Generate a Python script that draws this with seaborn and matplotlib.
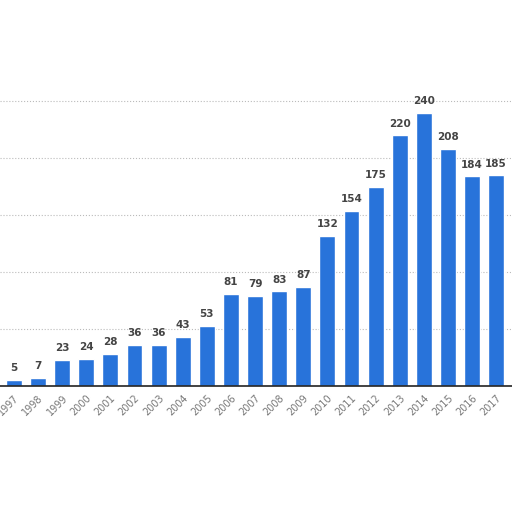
import matplotlib
matplotlib.use("Agg")
import pandas as pd
import matplotlib.pyplot as plt
import seaborn as sns

sns.set_style("white")
plt.rcParams['font.family'] = ['DejaVu Sans']

years = [str(y) for y in range(1997, 2018)]
values = [5, 7, 23, 24, 28, 36, 36, 43, 53, 81, 79, 83, 87,
          132, 154, 175, 220, 240, 208, 184, 185]

df = pd.DataFrame({"year": years, "value": values})

fig = plt.figure(figsize=(5.12, 5.12), dpi=100)
ax = fig.add_axes([0, 1 - 386 / 512, 1, 386 / 512])

sns.barplot(x="year", y="value", data=df, color="#2873da", width=0.66,
            saturation=1, ax=ax)

ax.set_xlim(-0.58, 20.66)
ax.set_ylim(0, 339)
ax.set_xlabel("")
ax.set_ylabel("")
ax.set_yticks([50, 100, 150, 200, 250])
ax.set_yticklabels([])
ax.tick_params(axis="y", length=0)
ax.grid(axis="y", linestyle=":", color="#bbbbbb", linewidth=0.8)
ax.set_axisbelow(True)

for s in ["top", "right", "left"]:
    ax.spines[s].set_visible(False)
ax.spines["bottom"].set_color("#222222")
ax.spines["bottom"].set_linewidth(1.2)

ax.tick_params(axis="x", length=0, pad=5, labelsize=7, labelcolor="#777777")
plt.setp(ax.get_xticklabels(), rotation=45, ha="right", rotation_mode="anchor")

for i, v in enumerate(values):
    ax.text(i, v + 6, str(v), ha="center", va="bottom", fontsize=7.5,
            fontweight="bold", color="#444444")

fig.savefig("out.png", dpi=100)
